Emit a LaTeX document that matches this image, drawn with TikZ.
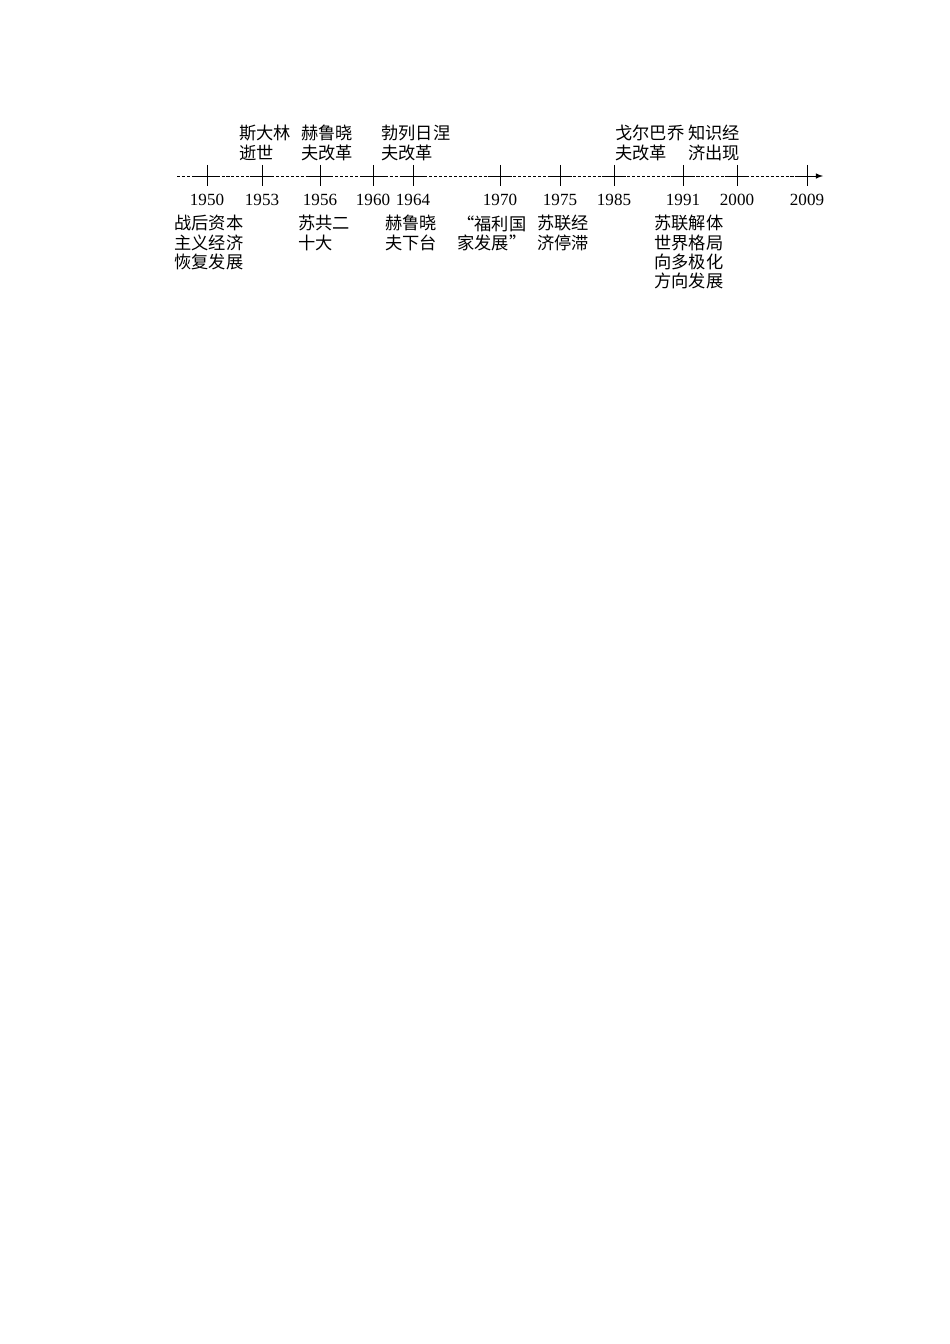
\documentclass[tikz,border=0pt]{standalone}
\usepackage{fontspec}
\setmainfont{Liberation Serif}
\newfontfamily\cjk{Noto Sans CJK SC}

\begin{document}
\begin{tikzpicture}[x=0.6266pt, y=-0.6266pt, line width=0.55pt,
    event/.style={anchor=north west, inner sep=0pt, align=left,
        font=\cjk\fontsize{10.8}{12.1}\selectfont},
    year/.style={inner sep=0pt, font=\fontsize{10.7}{12}\selectfont},
    axis/.style={line width=0.45pt, dash pattern=on 1.9pt off 1.2pt}]

    \useasboundingbox (0,0) rectangle (950,1344);

    % time line
    \coordinate (start) at (177,176);
    \coordinate (end) at (823,176);
    \coordinate (y1950) at (207,176);
    \coordinate (y1953) at (262,176);
    \coordinate (y1956) at (320,176);
    \coordinate (y1960) at (373,176);
    \coordinate (y1964) at (413,176);
    \coordinate (y1970) at (500,176);
    \coordinate (y1975) at (560,176);
    \coordinate (y1985) at (614,176);
    \coordinate (y1991) at (683,176);
    \coordinate (y2000) at (737,176);
    \coordinate (y2009) at (807,176);

    \draw[axis] (start) -- (y2009);
    \draw[->,>=latex] (y2009) -- (end);

    \draw ([xshift=-7.8pt]y1950) -- ([xshift=7.8pt]y1950) ([yshift=7pt]y1950) -- ([yshift=-6pt]y1950);
    \draw ([xshift=-7.8pt]y1953) -- ([xshift=7.8pt]y1953) ([yshift=7pt]y1953) -- ([yshift=-6pt]y1953);
    \draw ([xshift=-7.8pt]y1956) -- ([xshift=7.8pt]y1956) ([yshift=7pt]y1956) -- ([yshift=-6pt]y1956);
    \draw ([xshift=-7.8pt]y1960) -- ([xshift=7.8pt]y1960) ([yshift=7pt]y1960) -- ([yshift=-6pt]y1960);
    \draw ([xshift=-7.8pt]y1964) -- ([xshift=7.8pt]y1964) ([yshift=7pt]y1964) -- ([yshift=-6pt]y1964);
    \draw ([xshift=-7.8pt]y1970) -- ([xshift=7.8pt]y1970) ([yshift=7pt]y1970) -- ([yshift=-6pt]y1970);
    \draw ([xshift=-7.8pt]y1975) -- ([xshift=7.8pt]y1975) ([yshift=7pt]y1975) -- ([yshift=-6pt]y1975);
    \draw ([xshift=-7.8pt]y1985) -- ([xshift=7.8pt]y1985) ([yshift=7pt]y1985) -- ([yshift=-6pt]y1985);
    \draw ([xshift=-7.8pt]y1991) -- ([xshift=7.8pt]y1991) ([yshift=7pt]y1991) -- ([yshift=-6pt]y1991);
    \draw ([xshift=-7.8pt]y2000) -- ([xshift=7.8pt]y2000) ([yshift=7pt]y2000) -- ([yshift=-6pt]y2000);
    \draw ([xshift=-7.8pt]y2009) -- ([xshift=7.8pt]y2009) ([yshift=7pt]y2009) -- ([yshift=-6pt]y2009);

    % years
    \node[year] (t1950) at ([yshift=-15pt]y1950) {1950};
    \node[year] (t1953) at ([yshift=-15pt]y1953) {1953};
    \node[year] (t1956) at ([yshift=-15pt]y1956) {1956};
    \node[year] (t1960) at ([yshift=-15pt]y1960) {1960};
    \node[year] (t1964) at ([yshift=-15pt]y1964) {1964};
    \node[year] (t1970) at ([yshift=-15pt]y1970) {1970};
    \node[year] (t1975) at ([yshift=-15pt]y1975) {1975};
    \node[year] (t1985) at ([yshift=-15pt]y1985) {1985};
    \node[year] (t1991) at ([yshift=-15pt]y1991) {1991};
    \node[year] (t2000) at ([yshift=-15pt]y2000) {2000};
    \node[year] (t2009) at ([yshift=-15pt]y2009) {2009};

    % events above the line
    \node[event] (stalin) at (239,125) {斯大林\\逝世};
    \node[event] (khrushchev) at (301,125) {赫鲁晓\\夫改革};
    \node[event] (brezhnev) at (381,125) {勃列日涅\\夫改革};
    \node[event] (gorbachev) at (615,125) {戈尔巴乔\\夫改革};
    \node[event] (knowledge) at (688,125) {知识经\\济出现};

    % events below the line
    \node[event] (recovery) at (174,215) {战后资本\\主义经济\\恢复发展};
    \node[event] (congress) at (298,215) {苏共二\\十大};
    \node[event] (ousted) at (385,215) {赫鲁晓\\夫下台};
    \node[event] (welfare) at (457,215) {“福利国\\家发展”};
    \node[event] (stagnation) at (537,215) {苏联经\\济停滞};
    \node[event] (collapse) at (654,215) {苏联解体\\世界格局\\向多极化\\方向发展};

\end{tikzpicture}
\end{document}
